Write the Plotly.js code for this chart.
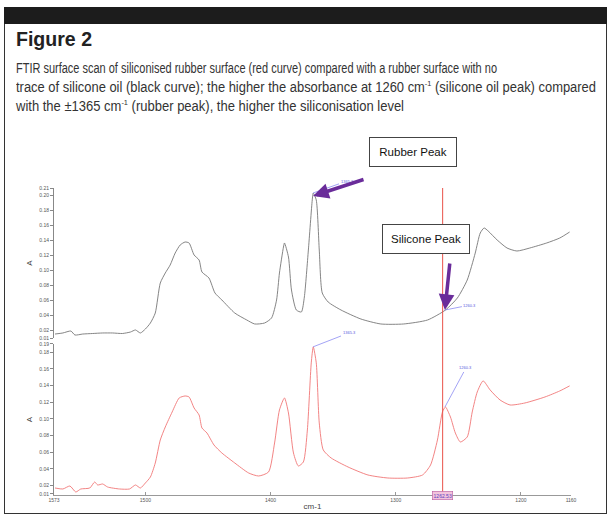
<!DOCTYPE html>
<html>
<head>
<meta charset="utf-8">
<script src="https://cdn.plot.ly/plotly-3.0.1.min.js"></script>
<style>
  body { margin: 0; background: #fff; }
  #page { position: relative; width: 616px; height: 529px; overflow: hidden; }
  #graph { position: absolute; left: 0; top: 0; width: 616px; height: 529px; }
  #frame { position: absolute; left: 4px; top: 7px; width: 601px; height: 506px;
           border: 1.5px solid #333; border-top: none; pointer-events: none; }
  #bar { position: absolute; left: 4px; top: 7px; width: 603px; height: 17px; background: #1c1c1c; }
  .fit { position: absolute; left: 16px; white-space: nowrap; transform-origin: 0 0; }
  #fig { top: 28px; color: #222; font: bold 20px "Liberation Sans", Arial, sans-serif; }
  .cap { color: #333; font: 14px/19px "Liberation Sans", Arial, sans-serif; }
  .cap sup { font-size: 8px; line-height: 0; }
</style>
</head>
<body>
<div id="page">
  <div id="graph"></div>
  <div id="frame"></div>
  <div id="bar"></div>
  <div id="fig" class="fit" data-w="76">Figure 2</div>
  <div class="fit cap" style="top:59px" data-w="481">FTIR surface scan of siliconised rubber surface (red curve) compared with a rubber surface with no</div>
  <div class="fit cap" style="top:78px" data-w="580">trace of silicone oil (black curve); the higher the absorbance at 1260 cm<sup>-1</sup> (silicone oil peak) compared</div>
  <div class="fit cap" style="top:97px" data-w="388">with the ±1365 cm<sup>-1</sup> (rubber peak), the higher the siliconisation level</div>
</div>
<script>
// rubber surface, no silicone (black curve, upper panel)
var wnRubber = [1572.2, 1565.9, 1559.5, 1556.3, 1550.0, 1542.1, 1534.1, 1526.2, 1518.3, 1511.9,
  1507.9, 1504.0, 1500.0, 1496.0, 1492.1, 1488.1, 1484.1, 1480.2, 1476.2, 1472.2,
  1468.3, 1465.1, 1461.1, 1457.1, 1454.8, 1449.2, 1444.4, 1438.9, 1428.6, 1419.0,
  1412.7, 1404.8, 1399.2, 1395.2, 1392.9, 1389.7, 1388.9, 1385.7, 1383.3, 1379.4,
  1375.4, 1373.0, 1369.8, 1366.7, 1365.9, 1363.5, 1361.1, 1358.7, 1354.0, 1343.7,
  1327.8, 1311.9, 1293.7, 1274.6, 1260.3, 1250.8, 1242.9, 1236.5, 1232.5, 1229.4,
  1226.2, 1219.0, 1211.1, 1203.2, 1192.9, 1179.4, 1169.0, 1161.1];
var absRubber = [0.0153, 0.0167, 0.0193, 0.0140, 0.0153, 0.0160, 0.0167, 0.0167, 0.0160, 0.0180,
  0.0207, 0.0167, 0.0220, 0.0300, 0.0433, 0.0833, 0.0967, 0.1073, 0.1233, 0.1340,
  0.1380, 0.1367, 0.1207, 0.1140, 0.0980, 0.0900, 0.0700, 0.0607, 0.0433, 0.0340,
  0.0287, 0.0300, 0.0367, 0.0607, 0.0967, 0.1313, 0.1367, 0.1180, 0.0740, 0.0473,
  0.0447, 0.0647, 0.1273, 0.1940, 0.2033, 0.1940, 0.1273, 0.0700, 0.0580, 0.0473,
  0.0353, 0.0287, 0.0287, 0.0340, 0.0473, 0.0633, 0.0873, 0.1233, 0.1500, 0.1567,
  0.1527, 0.1407, 0.1300, 0.1260, 0.1300, 0.1367, 0.1433, 0.1513];

// siliconised rubber surface (red curve, lower panel)
var wnSilicone = [1572.2, 1565.9, 1560.3, 1555.6, 1551.6, 1544.4, 1540.5, 1538.1, 1534.1, 1530.2,
  1520.6, 1512.7, 1507.9, 1504.0, 1500.0, 1496.0, 1492.1, 1488.1, 1484.1, 1478.6,
  1473.0, 1468.3, 1465.1, 1461.1, 1457.1, 1454.8, 1450.8, 1445.2, 1438.9, 1428.6,
  1417.5, 1409.5, 1401.6, 1396.8, 1392.9, 1388.9, 1385.7, 1381.7, 1377.8, 1373.8,
  1370.6, 1367.5, 1365.9, 1363.5, 1361.1, 1357.9, 1351.6, 1338.1, 1322.2, 1306.3,
  1290.5, 1278.6, 1272.2, 1266.7, 1262.7, 1260.3, 1256.3, 1252.4, 1248.4, 1242.9,
  1238.9, 1234.9, 1230.2, 1224.6, 1216.7, 1208.7, 1196.8, 1180.8, 1169.0, 1161.1];
var absSilicone = [0.0172, 0.0160, 0.0196, 0.0124, 0.0160, 0.0172, 0.0244, 0.0208, 0.0220, 0.0184,
  0.0160, 0.0160, 0.0208, 0.0172, 0.0232, 0.0304, 0.0472, 0.0748, 0.0904, 0.1084,
  0.1252, 0.1276, 0.1264, 0.1132, 0.1048, 0.0892, 0.0832, 0.0688, 0.0592, 0.0472,
  0.0352, 0.0316, 0.0364, 0.0712, 0.1108, 0.1252, 0.1072, 0.0592, 0.0436, 0.0484,
  0.0868, 0.1673, 0.1865, 0.1673, 0.0952, 0.0628, 0.0532, 0.0424, 0.0328, 0.0292,
  0.0292, 0.0328, 0.0448, 0.0748, 0.1084, 0.1144, 0.1024, 0.0832, 0.0724, 0.0784,
  0.1084, 0.1324, 0.1457, 0.1348, 0.1228, 0.1168, 0.1192, 0.1264, 0.1336, 0.1397];

var xTicks = [1573, 1500, 1400, 1300, 1200, 1160];
var topTicks = [0.01, 0.02, 0.04, 0.06, 0.08, 0.10, 0.12, 0.14, 0.16, 0.18, 0.20, 0.21];
var bottomTicks = [0.01, 0.02, 0.04, 0.06, 0.08, 0.10, 0.12, 0.14, 0.16, 0.18, 0.19];
var cursorWn = 1262.53;
var rubberPeak = {wn: 1366.1, top: 0.2033, bottom: 0.1865, label: '1365.3'};
var siliconePeak = {wn: 1260.7, top: 0.0473, bottom: 0.1144, label: '1260.3'};

// squeeze the header lines to the condensed width of the printed caption
function fitText() {
  var els = document.querySelectorAll('.fit');
  for (var i = 0; i < els.length; i++) {
    var w = els[i].getBoundingClientRect().width;
    var target = parseFloat(els[i].getAttribute('data-w'));
    els[i].style.transform = 'scaleX(' + (target / w) + ')';
  }
}

function tickText(vals) {
  return vals.map(function (v) { return v.toFixed(2); });
}

function peakLabel(x, y, yref, text, ax, ay) {
  return {
    x: x, y: y, xref: 'x', yref: yref, text: text,
    showarrow: true, arrowhead: 0, arrowwidth: 0.7, arrowcolor: '#7b7bf0',
    ax: ax, ay: ay, font: {size: 4, color: '#5a5ae0'}
  };
}

function bigArrow(x, y, yref, ax, ay) {
  return {
    x: x, y: y, xref: 'x', yref: yref, text: '',
    showarrow: true, arrowhead: 2, arrowsize: 0.9, arrowwidth: 3.5,
    arrowcolor: '#6a2c9a', ax: ax, ay: ay, standoff: 0
  };
}

function labelBox(x, y, text) {
  return {
    x: x, y: y, xref: 'paper', yref: 'paper', xanchor: 'center', yanchor: 'middle',
    text: text, showarrow: false,
    width: 86, height: 28, borderpad: 0, bordercolor: '#444', borderwidth: 1,
    bgcolor: '#fff', font: {size: 11.5, color: '#111', family: 'Liberation Sans, Arial'}
  };
}

function draw() {
  fitText();

  var axisFont = {size: 5, color: '#555', family: 'Liberation Sans, Arial'};

  var rubberTrace = {
    x: wnRubber, y: absRubber, yaxis: 'y2', type: 'scatter', mode: 'lines',
    line: {color: '#777', width: 0.9, shape: 'spline', smoothing: 0.6}
  };
  var siliconeTrace = {
    x: wnSilicone, y: absSilicone, yaxis: 'y', type: 'scatter', mode: 'lines',
    line: {color: '#f07676', width: 0.9, shape: 'spline', smoothing: 0.6}
  };

  var yBase = {
    showline: true, linecolor: '#888', linewidth: 1, showgrid: false, zeroline: false,
    ticks: 'outside', ticklen: 3, tickcolor: '#888', tickfont: axisFont,
    title: {text: 'A', font: {size: 8, color: '#444'}, standoff: 5}
  };

  var layout = {
    width: 616, height: 529,
    margin: {l: 54, r: 45, t: 188, b: 34, autoexpand: false},
    paper_bgcolor: 'rgba(0,0,0,0)', plot_bgcolor: 'rgba(0,0,0,0)',
    showlegend: false,
    font: {family: 'Liberation Sans, Arial'},
    xaxis: {
      range: [1573, 1160], showline: true, linecolor: '#999', linewidth: 1,
      showgrid: false, zeroline: false, ticks: 'inside', ticklen: 3, tickcolor: '#999',
      tickvals: xTicks, ticktext: xTicks.map(String), tickfont: axisFont,
      title: {text: 'cm-1', font: {size: 8, color: '#444'}, standoff: 1}
    },
    yaxis: Object.assign({}, yBase, {
      domain: [0, 0.492], range: [0.0088, 0.19],
      tickvals: bottomTicks, ticktext: tickText(bottomTicks)
    }),
    yaxis2: Object.assign({}, yBase, {
      domain: [0.5114, 1], range: [0.01, 0.21], anchor: 'x',
      tickvals: topTicks, ticktext: tickText(topTicks)
    }),
    shapes: [{
      type: 'line', xref: 'x', yref: 'paper', x0: cursorWn, x1: cursorWn, y0: 0, y1: 1,
      line: {color: '#e9524a', width: 1}
    }],
    annotations: [
      peakLabel(rubberPeak.wn, rubberPeak.top, 'y2', rubberPeak.label, 34, -12),
      peakLabel(siliconePeak.wn, siliconePeak.top, 'y2', siliconePeak.label, 25, -5),
      peakLabel(rubberPeak.wn, rubberPeak.bottom, 'y', rubberPeak.label, 36, -14),
      peakLabel(siliconePeak.wn, siliconePeak.bottom, 'y', siliconePeak.label, 21, -39),
      bigArrow(rubberPeak.wn, 0.1993, 'y2', 52, -17),
      bigArrow(siliconePeak.wn, siliconePeak.top, 'y2', 5, -48),
      labelBox(0.694, 1.117, 'Rubber Peak'),
      labelBox(0.7195, 0.834, 'Silicone Peak'),
      {
        x: cursorWn, y: 0, xref: 'x', yref: 'paper', yshift: -5, showarrow: false,
        text: cursorWn.toFixed(2), font: {size: 5, color: '#5a3fc0'},
        bgcolor: '#f3c4dc', bordercolor: '#b85aa0', borderwidth: 0.6, borderpad: 1
      }
    ]
  };

  Plotly.newPlot('graph', [siliconeTrace, rubberTrace], layout, {staticPlot: true});
}

window.addEventListener("load", draw, false);
</script>
</body>
</html>
